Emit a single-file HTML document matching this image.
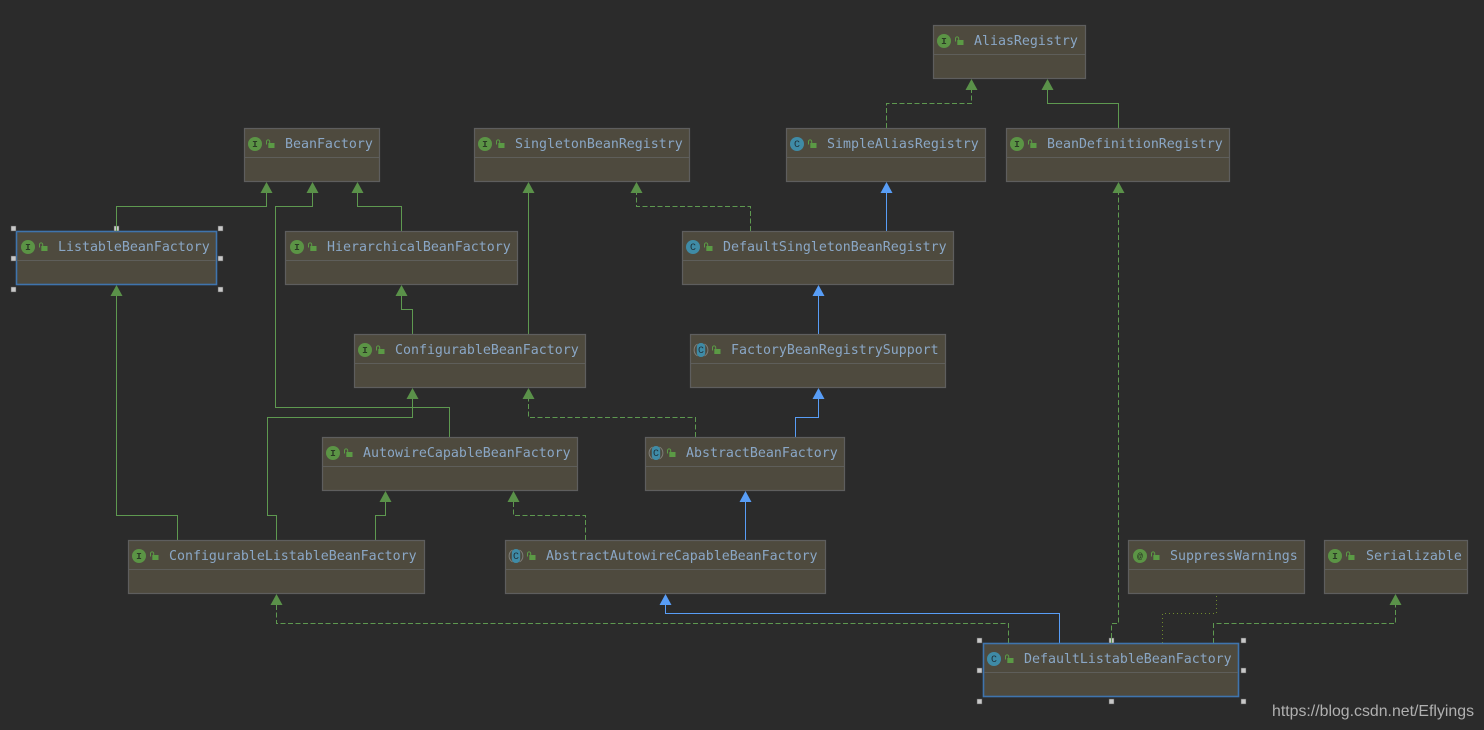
<!DOCTYPE html>
<html><head><meta charset="utf-8"><style>
html,body{margin:0;padding:0;background:#2b2b2b;width:1484px;height:730px;overflow:hidden}
svg{display:block}
.b{fill:#4e4a3e;stroke:#5e5e5e;stroke-width:1.2}
.s{fill:#4e4a3e;stroke:#3f74ad;stroke-width:1.6}
.d{stroke:#5e5e5a;stroke-width:1}
.t{font:13.28px "DejaVu Sans Mono","Liberation Mono",monospace;fill:#8aa7c6}
.il{font:bold 9.5px "Liberation Mono",monospace;text-anchor:middle;fill:#2b3a25}
.ilc{font:10px "Liberation Mono",monospace;text-anchor:middle;fill:#1f3038}
.g{fill:none;stroke:#5e9950;stroke-width:1}
.gd{fill:none;stroke:#5e9950;stroke-width:1;stroke-dasharray:5 2.5}
.bl{fill:none;stroke:#589df6;stroke-width:1}
.ah{fill:#5a9149}
.ab{fill:#589df6}
.h{fill:#c8c8c8;stroke:#555;stroke-width:.5}
.ci{fill:#5b9445}
.cc{fill:#3f8ba6}
.lk{fill:#5b9a45}
.lks{fill:none;stroke:#5b9a45;stroke-width:1}
.br{fill:none;stroke:#7d7d78;stroke-width:1}
</style></head><body>
<svg width="1484" height="730" viewBox="0 0 1484 730" xmlns="http://www.w3.org/2000/svg">
<defs>
<g id="lock"><rect x="2.300" y="0" width="6.200" height="5" class="lk"/><path d="M0.500 1.500V-1.500a1.600 1.600 0 0 1 3.200 0V0.300" class="lks"/></g>
<g id="abs"><path class="br" d="M-3.500 -6a7 7 0 0 0 0 12M3.500 -6a7 7 0 0 1 0 12"/><rect x="-4.200" y="-7" width="8.400" height="14" rx="4" class="cc"/></g>
</defs>

<!-- connectors -->
<path class="g" d="M116.500 231V206.500H266.500V190"/>
<path class="g" d="M449.500 437V407.500H275.500V206.500H312.500V190"/>
<path class="g" d="M401.500 231V206.500H357.500V190"/>
<path class="g" d="M412.500 334V309.500H401.500V294"/>
<path class="g" d="M528.500 334V190"/>
<path class="gd" d="M750.500 231V206.500H636.500V190"/>
<path class="bl" d="M886.500 231V190"/>
<path class="gd" d="M886.500 128V103.500H971.500V87"/>
<path class="g" d="M1118.500 128V103.500H1047.500V87"/>
<path class="bl" d="M818.500 334V293"/>
<path class="bl" d="M795.500 437V417.500H818.500V396"/>
<path class="gd" d="M695.500 437V417.500H528.500V396"/>
<path class="g" d="M276.500 540V515.500H267.500V417.500H412.500V396"/>
<path class="g" d="M177.500 540V515.500H116.500V293"/>
<path class="g" d="M375.500 540V515.500H385.500V499"/>
<path class="gd" d="M585.500 540V515.500H513.500V499"/>
<path class="bl" d="M745.500 540V499"/>
<path class="bl" d="M1059.500 643V613.500H665.500V602"/>
<path class="gd" d="M1008.500 643V623.500H276.500V602"/>
<path class="gd" d="M1118.500 190V623.500H1111.500V643"/>
<path fill="none" stroke="#6f8a2e" stroke-width="1" stroke-dasharray="1 3" d="M1162.500 643V613.500H1216.500V595"/>
<path class="gd" d="M1213.500 643V623.500H1395.500V602"/>

<!-- arrowheads -->
<path class="ah" d="M266.500 182l-6 11h12z"/>
<path class="ah" d="M312.500 182l-6 11h12z"/>
<path class="ah" d="M357.500 182l-6 11h12z"/>
<path class="ah" d="M401.500 285l-6 11h12z"/>
<path class="ah" d="M528.500 182l-6 11h12z"/>
<path class="ah" d="M636.500 182l-6 11h12z"/>
<path class="ab" d="M886.500 182l-6 11h12z"/>
<path class="ah" d="M971.500 79l-6 11h12z"/>
<path class="ah" d="M1047.500 79l-6 11h12z"/>
<path class="ab" d="M818.500 285l-6 11h12z"/>
<path class="ab" d="M818.500 388l-6 11h12z"/>
<path class="ah" d="M528.500 388l-6 11h12z"/>
<path class="ah" d="M412.500 388l-6 11h12z"/>
<path class="ah" d="M116.500 285l-6 11h12z"/>
<path class="ah" d="M385.500 491l-6 11h12z"/>
<path class="ah" d="M513.500 491l-6 11h12z"/>
<path class="ab" d="M745.500 491l-6 11h12z"/>
<path class="ab" d="M665.500 594l-6 11h12z"/>
<path class="ah" d="M276.500 594l-6 11h12z"/>
<path class="ah" d="M1118.500 182l-6 11h12z"/>
<path class="ah" d="M1395.500 594l-6 11h12z"/>

<!-- AliasRegistry -->
<rect class="b" x="933.500" y="25.500" width="152" height="53"/><line class="d" x1="934" x2="1085" y1="54.500" y2="54.500"/>
<circle class="ci" cx="944" cy="41" r="7"/><text class="il" x="944" y="44">I</text><use href="#lock" x="955" y="40"/>
<text class="t" x="974" y="45">AliasRegistry</text>

<!-- BeanFactory -->
<rect class="b" x="244.500" y="128.500" width="135" height="53"/><line class="d" x1="245" x2="379" y1="157.500" y2="157.500"/>
<circle class="ci" cx="255" cy="144" r="7"/><text class="il" x="255" y="147">I</text><use href="#lock" x="266" y="143"/>
<text class="t" x="285" y="148">BeanFactory</text>

<!-- SingletonBeanRegistry -->
<rect class="b" x="474.500" y="128.500" width="215" height="53"/><line class="d" x1="475" x2="689" y1="157.500" y2="157.500"/>
<circle class="ci" cx="485" cy="144" r="7"/><text class="il" x="485" y="147">I</text><use href="#lock" x="496" y="143"/>
<text class="t" x="515" y="148">SingletonBeanRegistry</text>

<!-- SimpleAliasRegistry -->
<rect class="b" x="786.500" y="128.500" width="199" height="53"/><line class="d" x1="787" x2="985" y1="157.500" y2="157.500"/>
<circle class="cc" cx="797" cy="144" r="7"/><text class="ilc" x="797" y="147">C</text><use href="#lock" x="808" y="143"/>
<text class="t" x="827" y="148">SimpleAliasRegistry</text>

<!-- BeanDefinitionRegistry -->
<rect class="b" x="1006.500" y="128.500" width="223" height="53"/><line class="d" x1="1007" x2="1229" y1="157.500" y2="157.500"/>
<circle class="ci" cx="1017" cy="144" r="7"/><text class="il" x="1017" y="147">I</text><use href="#lock" x="1028" y="143"/>
<text class="t" x="1047" y="148">BeanDefinitionRegistry</text>

<!-- ListableBeanFactory -->
<rect class="s" x="16.500" y="231.500" width="200" height="53"/><line class="d" x1="17" x2="216" y1="260.500" y2="260.500"/>
<circle class="ci" cx="28" cy="247" r="7"/><text class="il" x="28" y="250">I</text><use href="#lock" x="39" y="246"/>
<text class="t" x="58" y="251">ListableBeanFactory</text>

<!-- HierarchicalBeanFactory -->
<rect class="b" x="285.500" y="231.500" width="232" height="53"/><line class="d" x1="286" x2="517" y1="260.500" y2="260.500"/>
<circle class="ci" cx="297" cy="247" r="7"/><text class="il" x="297" y="250">I</text><use href="#lock" x="308" y="246"/>
<text class="t" x="327" y="251">HierarchicalBeanFactory</text>

<!-- DefaultSingletonBeanRegistry -->
<rect class="b" x="682.500" y="231.500" width="271" height="53"/><line class="d" x1="683" x2="953" y1="260.500" y2="260.500"/>
<circle class="cc" cx="693" cy="247" r="7"/><text class="ilc" x="693" y="250">C</text><use href="#lock" x="704" y="246"/>
<text class="t" x="723" y="251">DefaultSingletonBeanRegistry</text>

<!-- ConfigurableBeanFactory -->
<rect class="b" x="354.500" y="334.500" width="231" height="53"/><line class="d" x1="355" x2="585" y1="363.500" y2="363.500"/>
<circle class="ci" cx="365" cy="350" r="7"/><text class="il" x="365" y="353">I</text><use href="#lock" x="376" y="349"/>
<text class="t" x="395" y="354">ConfigurableBeanFactory</text>

<!-- FactoryBeanRegistrySupport -->
<rect class="b" x="690.500" y="334.500" width="255" height="53"/><line class="d" x1="691" x2="945" y1="363.500" y2="363.500"/>
<use href="#abs" x="701" y="350"/><text class="ilc" x="701" y="353">C</text><use href="#lock" x="712" y="349"/>
<text class="t" x="731" y="354">FactoryBeanRegistrySupport</text>

<!-- AutowireCapableBeanFactory -->
<rect class="b" x="322.500" y="437.500" width="255" height="53"/><line class="d" x1="323" x2="577" y1="466.500" y2="466.500"/>
<circle class="ci" cx="333" cy="453" r="7"/><text class="il" x="333" y="456">I</text><use href="#lock" x="344" y="452"/>
<text class="t" x="363" y="457">AutowireCapableBeanFactory</text>

<!-- AbstractBeanFactory -->
<rect class="b" x="645.500" y="437.500" width="199" height="53"/><line class="d" x1="646" x2="844" y1="466.500" y2="466.500"/>
<use href="#abs" x="656" y="453"/><text class="ilc" x="656" y="456">C</text><use href="#lock" x="667" y="452"/>
<text class="t" x="686" y="457">AbstractBeanFactory</text>

<!-- ConfigurableListableBeanFactory -->
<rect class="b" x="128.500" y="540.500" width="296" height="53"/><line class="d" x1="129" x2="424" y1="569.500" y2="569.500"/>
<circle class="ci" cx="139" cy="556" r="7"/><text class="il" x="139" y="559">I</text><use href="#lock" x="150" y="555"/>
<text class="t" x="169" y="560">ConfigurableListableBeanFactory</text>

<!-- AbstractAutowireCapableBeanFactory -->
<rect class="b" x="505.500" y="540.500" width="320" height="53"/><line class="d" x1="506" x2="825" y1="569.500" y2="569.500"/>
<use href="#abs" x="516" y="556"/><text class="ilc" x="516" y="559">C</text><use href="#lock" x="527" y="555"/>
<text class="t" x="546" y="560">AbstractAutowireCapableBeanFactory</text>

<!-- SuppressWarnings -->
<rect class="b" x="1128.500" y="540.500" width="176" height="53"/><line class="d" x1="1129" x2="1304" y1="569.500" y2="569.500"/>
<circle class="ci" cx="1140" cy="556" r="7"/><text class="il" x="1140" y="559">@</text><use href="#lock" x="1151" y="555"/>
<text class="t" x="1170" y="560">SuppressWarnings</text>

<!-- Serializable -->
<rect class="b" x="1324.500" y="540.500" width="143" height="53"/><line class="d" x1="1325" x2="1467" y1="569.500" y2="569.500"/>
<circle class="ci" cx="1335" cy="556" r="7"/><text class="il" x="1335" y="559">I</text><use href="#lock" x="1346" y="555"/>
<text class="t" x="1366" y="560">Serializable</text>

<!-- DefaultListableBeanFactory -->
<rect class="s" x="983.500" y="643.500" width="255" height="53"/><line class="d" x1="984" x2="1238" y1="672.500" y2="672.500"/>
<circle class="cc" cx="994" cy="659" r="7"/><text class="ilc" x="994" y="662">C</text><use href="#lock" x="1005" y="658"/>
<text class="t" x="1024" y="663">DefaultListableBeanFactory</text>

<!-- selection handles -->
<g class="h">
<rect x="11" y="226" width="5" height="5"/><rect x="114" y="226" width="5" height="5"/><rect x="218" y="226" width="5" height="5"/>
<rect x="11" y="256" width="5" height="5"/><rect x="218" y="256" width="5" height="5"/>
<rect x="11" y="287" width="5" height="5"/><rect x="218" y="287" width="5" height="5"/>
<rect x="977" y="638" width="5" height="5"/><rect x="1109" y="638" width="5" height="5"/><rect x="1241" y="638" width="5" height="5"/>
<rect x="977" y="668" width="5" height="5"/><rect x="1241" y="668" width="5" height="5"/>
<rect x="977" y="699" width="5" height="5"/><rect x="1109" y="699" width="5" height="5"/><rect x="1241" y="699" width="5" height="5"/>
</g>
<path class="g" d="M116.500 226V231M1111.500 638V643"/>

<text x="1272" y="716" font-family="Liberation Sans, sans-serif" font-size="16" fill="#b0b0b0" textLength="202" lengthAdjust="spacingAndGlyphs">https://blog.csdn.net/Eflyings</text>
</svg>
</body></html>
